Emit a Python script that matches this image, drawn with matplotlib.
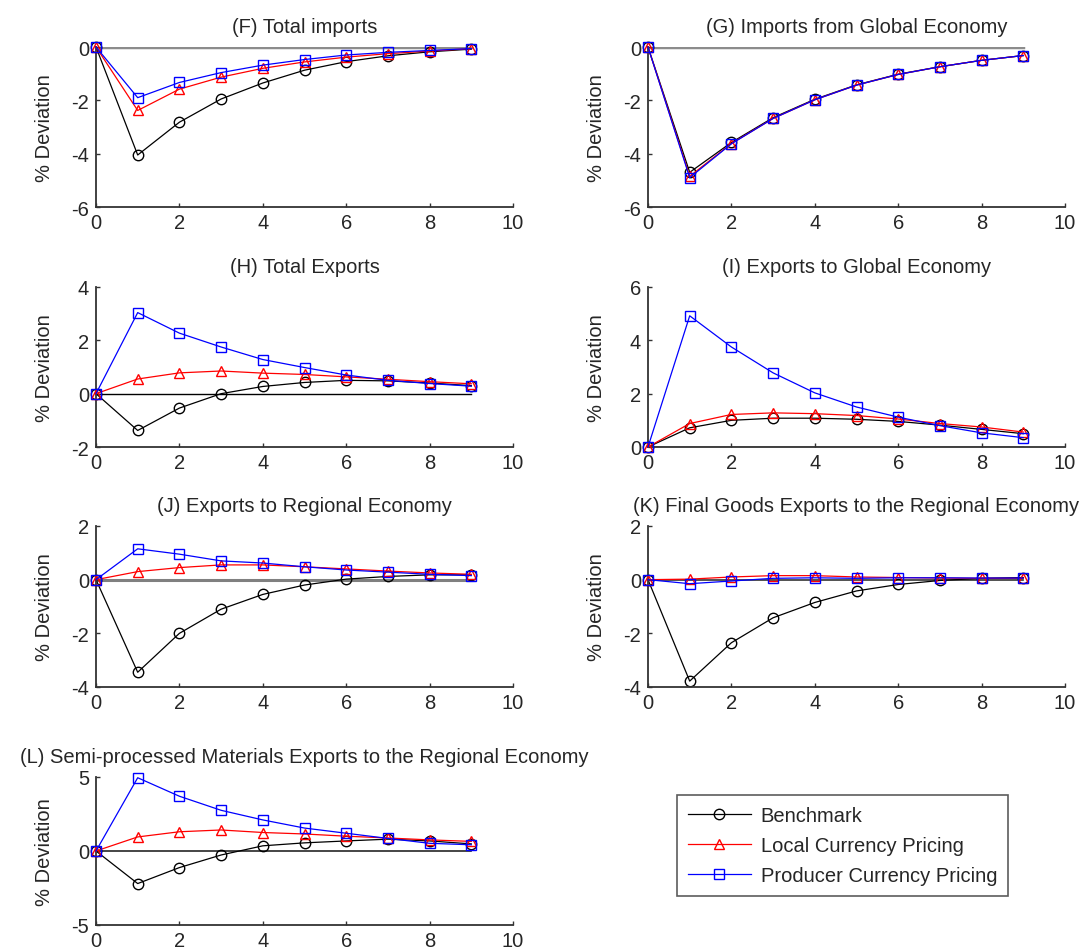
import numpy as np
import matplotlib
matplotlib.use("Agg")
import matplotlib.pyplot as plt

plt.rcParams["font.family"] = ["Liberation Sans", "DejaVu Sans"]
plt.rcParams["axes.unicode_minus"] = False

periods = [0, 1, 2, 3, 4, 5, 6, 7, 8, 9]
series_names = ["Benchmark", "Local Currency Pricing", "Producer Currency Pricing"]

titles = [
    "(F) Total imports",
    "(G) Imports from Global Economy",
    "(H) Total Exports",
    "(I) Exports to Global Economy",
    "(J) Exports to Regional Economy",
    "(K) Final Goods Exports to the Regional Economy",
    "(L) Semi-processed Materials Exports to the Regional Economy",
]

# (F) Total imports
bench_F = [0, -4.05, -2.82, -1.95, -1.35, -0.87, -0.55, -0.33, -0.18, -0.08]
lcp_F = [0, -2.38, -1.58, -1.13, -0.80, -0.56, -0.38, -0.25, -0.15, -0.06]
pcp_F = [0, -1.90, -1.33, -0.96, -0.68, -0.47, -0.30, -0.20, -0.13, -0.06]

# (G) Imports from global economy
bench_G = [0, -4.70, -3.58, -2.65, -1.96, -1.42, -1.02, -0.74, -0.50, -0.32]
lcp_G = [0, -4.85, -3.62, -2.68, -1.98, -1.43, -1.03, -0.74, -0.50, -0.32]
pcp_G = [0, -4.90, -3.63, -2.68, -1.98, -1.43, -1.03, -0.74, -0.50, -0.32]

# (H) Total exports
bench_H = [0, -1.38, -0.54, 0.00, 0.27, 0.42, 0.50, 0.48, 0.40, 0.30]
lcp_H = [0, 0.55, 0.78, 0.85, 0.77, 0.72, 0.63, 0.54, 0.45, 0.37]
pcp_H = [0, 3.04, 2.27, 1.75, 1.28, 0.98, 0.70, 0.50, 0.38, 0.28]

# (I) Exports to global economy
bench_I = [0, 0.72, 1.00, 1.08, 1.08, 1.04, 0.96, 0.82, 0.66, 0.50]
lcp_I = [0, 0.88, 1.22, 1.28, 1.25, 1.18, 1.05, 0.88, 0.75, 0.56]
pcp_I = [0, 4.92, 3.75, 2.78, 2.03, 1.50, 1.12, 0.80, 0.53, 0.35]

# (J) Exports to regional economy
bench_J = [0, -3.45, -2.00, -1.10, -0.55, -0.20, 0.02, 0.12, 0.18, 0.18]
lcp_J = [0, 0.30, 0.45, 0.55, 0.55, 0.48, 0.40, 0.32, 0.25, 0.20]
pcp_J = [0, 1.15, 0.95, 0.70, 0.62, 0.48, 0.36, 0.28, 0.20, 0.15]

# (K) Final goods exports to regional economy
bench_K = [0, -3.78, -2.35, -1.42, -0.85, -0.42, -0.18, -0.03, 0.05, 0.08]
lcp_K = [0, 0.02, 0.10, 0.15, 0.15, 0.10, 0.08, 0.06, 0.05, 0.05]
pcp_K = [0, -0.15, -0.05, 0.05, 0.07, 0.05, 0.07, 0.07, 0.06, 0.06]

# (L) Semi-processed materials exports to regional economy
bench_L = [0, -2.20, -1.12, -0.27, 0.35, 0.55, 0.68, 0.80, 0.68, 0.48]
lcp_L = [0, 0.95, 1.30, 1.42, 1.25, 1.15, 1.00, 0.88, 0.75, 0.65]
pcp_L = [0, 4.95, 3.70, 2.75, 2.10, 1.55, 1.20, 0.85, 0.52, 0.42]

panel_data = [
    (bench_F, lcp_F, pcp_F),
    (bench_G, lcp_G, pcp_G),
    (bench_H, lcp_H, pcp_H),
    (bench_I, lcp_I, pcp_I),
    (bench_J, lcp_J, pcp_J),
    (bench_K, lcp_K, pcp_K),
    (bench_L, lcp_L, pcp_L),
]
y_limits = [(-6, 0), (-6, 0), (-2, 4), (0, 6), (-4, 2), (-4, 2), (-5, 5)]
y_steps = [2, 2, 2, 2, 2, 2, 5]

# layout in pixels (left, top, right, bottom) of each axes
W, H = 1081, 953
boxes = [
    (96, 48, 513, 208), (648, 48, 1065, 208),
    (96, 288, 513, 448), (648, 288, 1065, 448),
    (96, 527, 513, 688), (648, 527, 1065, 688),
    (96, 778, 513, 926),
]
zero_style = [("0.55", 2.5), ("0.55", 2.5), ("k", 1.0), ("k", 1.0),
              ("0.5", 2.2), ("0.2", 1.2), ("0.15", 1.2)]

line_colors = ["k", "r", "b"]
markers = ["o", "^", "s"]
txt = "0.15"
fs = 14.5

fig = plt.figure(figsize=(W / 100, H / 100), dpi=100)

handles = []
for i, (l, t, r, b) in enumerate(boxes):
    ax = fig.add_axes([l / W, 1 - b / H, (r - l) / W, (b - t) / H])
    zc, zw = zero_style[i]
    ax.plot([periods[0], periods[-1]], [0, 0], color=zc, lw=zw, zorder=1)
    for j, vals in enumerate(panel_data[i]):
        h, = ax.plot(periods, vals, color=line_colors[j], marker=markers[j],
                     markersize=7.5, markerfacecolor="none", markeredgewidth=1.0,
                     lw=0.9, clip_on=False, zorder=2 + j, label=series_names[j])
        if i == 0:
            handles.append(h)
    lo, hi = y_limits[i]
    ax.set_xlim(0, 10)
    ax.set_ylim(lo, hi)
    ax.set_xticks(range(0, 11, 2))
    ax.set_yticks(np.arange(lo, hi + 0.1, y_steps[i]))
    ax.spines["top"].set_visible(False)
    ax.spines["right"].set_visible(False)
    for s in ["left", "bottom"]:
        ax.spines[s].set_color("0.2")
        ax.spines[s].set_linewidth(1.3)
    ax.tick_params(direction="in", length=3, width=1, color="0.2",
                   labelsize=fs, labelcolor=txt)
    ax.tick_params(axis="y", pad=5)
    ax.tick_params(axis="x", pad=4)
    ax.set_ylabel("% Deviation", fontsize=fs, color=txt)
    ax.yaxis.set_label_coords(-42 / (r - l), 0.5)
    ax.set_title(titles[i], fontsize=fs, color=txt, pad=11)

fig.legend(handles=handles, labels=series_names, loc="upper left",
           bbox_to_anchor=(677 / W, 1 - 796 / H), fontsize=fs,
           frameon=True, fancybox=False, edgecolor="0.2",
           handlelength=3.1, handletextpad=0.5, labelspacing=0.55,
           borderpad=0.55, borderaxespad=0, labelcolor=txt)
fig.legends[0].get_frame().set_linewidth(1.2)

fig.savefig("out.png", dpi=100)
